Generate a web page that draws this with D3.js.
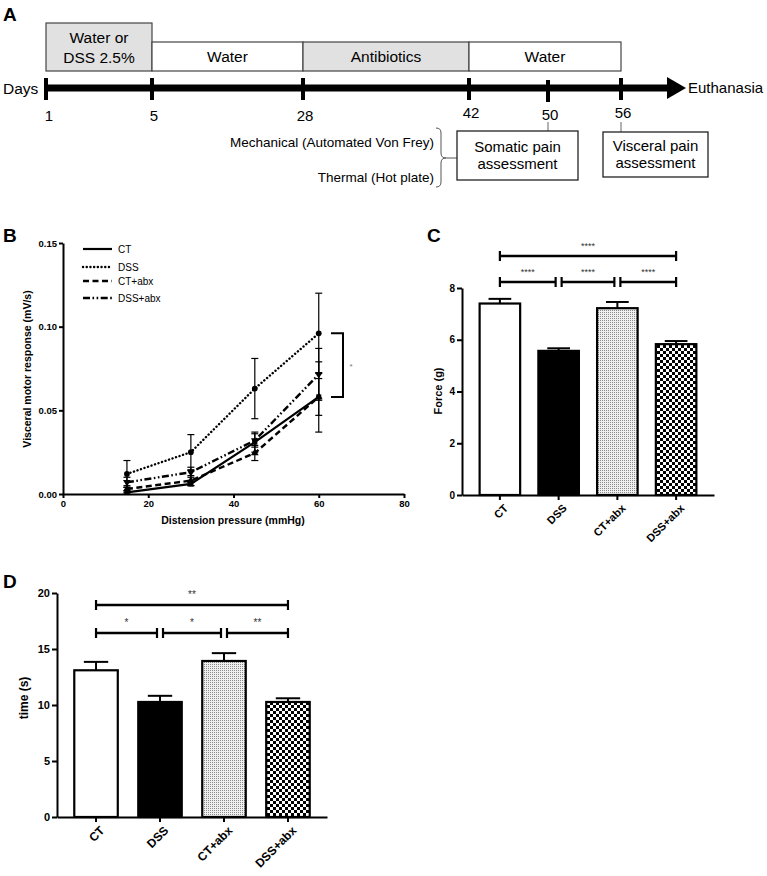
<!DOCTYPE html>
<html><head><meta charset="utf-8">
<script src="https://cdn.jsdelivr.net/npm/d3@7"></script>
<style>body{margin:0;background:#fff}svg{display:block}text{font-family:"Liberation Sans",Arial,sans-serif}</style>
</head><body><svg id="c" width="767" height="876"></svg>
<script>
// ---------- DATA ----------
const days = [1, 5, 28, 42, 50, 56];
const periods = [
  {from: 1, to: 5, lines: ["Water or", "DSS 2.5%"], gray: true, tall: true},
  {from: 5, to: 28, lines: ["Water"], gray: false},
  {from: 28, to: 42, lines: ["Antibiotics"], gray: true},
  {from: 42, to: 56, lines: ["Water"], gray: false}
];
const pressures = [15, 30, 45, 60];
const bGroups = ["CT", "DSS", "CT+abx", "DSS+abx"];
const vmrCT = [0.001, 0.006, 0.031, 0.058];
const vmrCTerr = [0.001, 0.001, 0.006, 0.021];
const vmrDSS = [0.012, 0.025, 0.063, 0.096];
const vmrDSSerr = [0.008, 0.0105, 0.018, 0.024];
const vmrCTabx = [0.003, 0.008, 0.0245, 0.058];
const vmrCTabxErr = [0.002, 0.003, 0.0045, 0.011];
const vmrDSSabx = [0.007, 0.013, 0.032, 0.0715];
const vmrDSSabxErr = [0.003, 0.003, 0.004, 0.0155];
const bXTicks = [0, 20, 40, 60, 80];
const bYTicks = [0, 0.05, 0.10, 0.15];
const groups = ["CT", "DSS", "CT+abx", "DSS+abx"];
const force = [7.4, 5.57, 7.22, 5.83];
const forceErr = [0.18, 0.1, 0.24, 0.12];
const cYTicks = [0, 2, 4, 6, 8];
const cSig = [{a: 0, b: 3, t: "****", row: 0}, {a: 0, b: 1, t: "****", row: 1}, {a: 1, b: 2, t: "****", row: 1}, {a: 2, b: 3, t: "****", row: 1}];
const hotTime = [13.1, 10.27, 13.93, 10.27];
const hotTimeErr = [0.75, 0.55, 0.7, 0.33];
const dYTicks = [0, 5, 10, 15, 20];
const dSig = [{a: 0, b: 3, t: "**", row: 0}, {a: 0, b: 1, t: "*", row: 1}, {a: 1, b: 2, t: "*", row: 1}, {a: 2, b: 3, t: "**", row: 1}];

const svg = d3.select("#c");
const FONT = '"Liberation Sans",Arial,sans-serif';

// patterns
const defs = svg.append("defs");
const pDot = defs.append("pattern").attr("id", "dots").attr("patternUnits", "userSpaceOnUse").attr("width", 2).attr("height", 2);
pDot.append("rect").attr("width", 2).attr("height", 2).attr("fill", "#f0f0f0");
pDot.append("rect").attr("width", 1).attr("height", 1).attr("fill", "#8a8a8a");
const pChk = defs.append("pattern").attr("id", "checker").attr("patternUnits", "userSpaceOnUse").attr("width", 6).attr("height", 6);
pChk.append("rect").attr("width", 6).attr("height", 6).attr("fill", "#fff");
pChk.append("rect").attr("width", 3).attr("height", 3).attr("fill", "#000");
pChk.append("rect").attr("x", 3).attr("y", 3).attr("width", 3).attr("height", 3).attr("fill", "#000");
const fills = ["#fff", "#000", "url(#dots)", "url(#checker)"];

function panelLabel(t, x, y) {
  svg.append("text").attr("x", x).attr("y", y).attr("font-size", 19).attr("font-weight", "bold").text(t);
}

// ---------- PANEL A ----------
panelLabel("A", 3, 21);
const xDay = d3.scaleLinear().domain(days).range([46, 152, 303, 469, 548, 621]);
const gA = svg.append("g");
const lineY = 88;
periods.forEach(p => {
  const x0 = xDay(p.from), x1 = xDay(p.to);
  const y0 = p.tall ? 23 : 42, y1 = 71;
  gA.append("rect").attr("x", x0).attr("y", y0).attr("width", x1 - x0).attr("height", y1 - y0)
    .attr("fill", p.gray ? "#e1e1e1" : "#fff").attr("stroke", "#444").attr("stroke-width", 1.2);
  const cy = (y0 + y1) / 2;
  p.lines.forEach((l, i) => {
    gA.append("text").attr("x", (x0 + x1) / 2).attr("y", cy + (i - (p.lines.length - 1) / 2) * 20)
      .attr("dy", "0.36em").attr("text-anchor", "middle").attr("font-size", 15.5).text(l);
  });
});
gA.append("line").attr("x1", xDay(1)).attr("x2", 668).attr("y1", lineY).attr("y2", lineY).attr("stroke", "#000").attr("stroke-width", 7);
gA.append("path").attr("d", `M667,${lineY - 11}L686,${lineY}L667,${lineY + 11}Z`).attr("fill", "#000");
days.forEach(d => {
  gA.append("rect").attr("x", xDay(d) - 2).attr("y", d === 50 ? 80 : 78).attr("width", 4).attr("height", 22).attr("fill", "#000");
  gA.append("text").attr("x", xDay(d) + (d === 1 ? 3 : 2)).attr("y", d === 50 ? 120 : d === 42 || d === 56 ? 118 : 121)
    .attr("text-anchor", "middle").attr("font-size", 15).text(d);
});
gA.append("text").attr("x", 3).attr("y", lineY).attr("dy", "0.36em").attr("font-size", 15.5).text("Days");
gA.append("text").attr("x", 688).attr("y", lineY).attr("dy", "0.36em").attr("font-size", 15).text("Euthanasia");
gA.append("text").attr("x", 434).attr("y", 142).attr("dy", "0.36em").attr("text-anchor", "end").attr("font-size", 13.5).text("Mechanical (Automated Von Frey)");
gA.append("text").attr("x", 434).attr("y", 177).attr("dy", "0.36em").attr("text-anchor", "end").attr("font-size", 13.5).text("Thermal (Hot plate)");
gA.append("path").attr("d", "M436,128 Q441,128 441,133 L441,153 Q441,158 446,158 Q441,158 441,163 L441,182 Q441,187 436,187")
  .attr("fill", "none").attr("stroke", "#555").attr("stroke-width", 1);
gA.append("line").attr("x1", 446).attr("x2", 457).attr("y1", 158).attr("y2", 158).attr("stroke", "#555");
[{d: 50, x0: 457, x1: 578, y0: 131, y1: 180, l: ["Somatic pain", "assessment"]},
 {d: 56, x0: 603, x1: 708, y0: 132, y1: 177, l: ["Visceral pain", "assessment"]}].forEach(b => {
  gA.append("line").attr("x1", xDay(b.d)).attr("x2", xDay(b.d)).attr("y1", 122).attr("y2", b.y0).attr("stroke", "#666");
  gA.append("rect").attr("x", b.x0).attr("y", b.y0).attr("width", b.x1 - b.x0).attr("height", b.y1 - b.y0)
    .attr("fill", "#fff").attr("stroke", "#222").attr("stroke-width", 1.3);
  b.l.forEach((t, i) => gA.append("text").attr("x", (b.x0 + b.x1) / 2).attr("y", (b.y0 + b.y1) / 2 + (i - 0.5) * 17)
    .attr("dy", "0.36em").attr("text-anchor", "middle").attr("font-size", 15).text(t));
});

function styleAxis(g, fs) {
  g.selectAll(".domain").attr("stroke", "#000").attr("stroke-width", 2);
  g.selectAll(".tick line").attr("stroke", "#000").attr("stroke-width", 2);
  g.selectAll("text").attr("font-family", FONT).attr("font-weight", "bold").attr("font-size", fs).attr("fill", "#000");
}

// ---------- PANEL B ----------
panelLabel("B", 3, 242);
const xB = d3.scaleLinear().domain([0, 80]).range([63, 404]);
const yB = d3.scaleLinear().domain([0, 0.15]).range([494, 243]);
const gB = svg.append("g");
gB.append("g").attr("transform", "translate(0,494)")
  .call(d3.axisBottom(xB).tickValues(bXTicks).tickSize(4).tickSizeOuter(0).tickPadding(2))
  .call(g => styleAxis(g, 9.5));
gB.append("g").attr("transform", "translate(63,0)")
  .call(d3.axisLeft(yB).tickValues(bYTicks).tickFormat(d3.format(".2f")).tickSize(4).tickSizeOuter(0).tickPadding(2))
  .call(g => styleAxis(g, 9.5));
gB.append("text").attr("x", 233).attr("y", 524).attr("text-anchor", "middle").attr("font-size", 10.5).attr("font-weight", "bold").text("Distension pressure (mmHg)");
gB.append("text").attr("transform", "translate(31,369) rotate(-90)").attr("text-anchor", "middle").attr("font-size", 10.5).attr("font-weight", "bold").text("Visceral motor response (mV/s)");
const seriesB = [
  {name: bGroups[0], v: vmrCT, e: vmrCTerr, dash: null, w: 2.2, cap: "butt", sym: d3.symbolSquare},
  {name: bGroups[1], v: vmrDSS, e: vmrDSSerr, dash: "0.1,3.6", w: 2.4, cap: "round", sym: d3.symbolCircle},
  {name: bGroups[2], v: vmrCTabx, e: vmrCTabxErr, dash: "6,3.5", w: 2.4, cap: "butt", sym: d3.symbolTriangle},
  {name: bGroups[3], v: vmrDSSabx, e: vmrDSSabxErr, dash: "7,2.5,1.6,2.5,1.6,2.5", w: 2.4, cap: "butt", sym: d3.symbolTriangle, flip: true}
];
const lineGen = d3.line().x((d, i) => xB(pressures[i])).y(d => yB(d));
seriesB.forEach(s => {
  s.v.forEach((v, i) => {
    const x = xB(pressures[i]);
    gB.append("line").attr("x1", x).attr("x2", x).attr("y1", yB(v - s.e[i])).attr("y2", yB(v + s.e[i])).attr("stroke", "#000").attr("stroke-width", 1.2);
    [v - s.e[i], v + s.e[i]].forEach(t => gB.append("line").attr("x1", x - 3.5).attr("x2", x + 3.5).attr("y1", yB(t)).attr("y2", yB(t)).attr("stroke", "#000").attr("stroke-width", 1.2));
  });
  gB.append("path").datum(s.v).attr("d", lineGen).attr("fill", "none").attr("stroke", "#000")
    .attr("stroke-width", s.w).attr("stroke-dasharray", s.dash).attr("stroke-linecap", s.cap);
  s.v.forEach((v, i) => {
    gB.append("path").attr("d", d3.symbol().type(s.sym).size(26)())
      .attr("transform", `translate(${xB(pressures[i])},${yB(v)})${s.flip ? " rotate(180)" : ""}`).attr("fill", "#000");
  });
});
seriesB.forEach((s, i) => {
  const y = [249, 267, 281, 298][i];
  gB.append("line").attr("x1", 83).attr("x2", 112).attr("y1", y).attr("y2", y).attr("stroke", "#000")
    .attr("stroke-width", s.w).attr("stroke-dasharray", s.dash).attr("stroke-linecap", s.cap);
  gB.append("text").attr("x", 118).attr("y", y).attr("dy", "0.36em").attr("font-size", 10).text(s.name);
});
{
  const x0 = 331, x1 = 343, ya = yB(vmrDSS[3]), yb = yB(vmrCT[3]);
  gB.append("path").attr("d", `M${x0},${ya}H${x1}V${yb}H${x0}`).attr("fill", "none").attr("stroke", "#000").attr("stroke-width", 2);
  gB.append("text").attr("x", 351).attr("y", (ya + yb) / 2 + 4).attr("text-anchor", "middle").attr("font-size", 8).attr("fill", "#777").text("*");
}

// ---------- bar chart helper ----------
function barPanel(o) {
  const g = svg.append("g");
  const x = d3.scaleBand().domain(groups).range(o.xr).paddingInner(o.pin).paddingOuter(o.pout);
  const y = d3.scaleLinear().domain(o.dom).range([o.y0, o.y1]);
  g.append("g").attr("transform", `translate(0,${o.y0})`)
    .call(d3.axisBottom(x).tickSize(5).tickSizeOuter(0).tickFormat(""))
    .call(gg => styleAxis(gg, o.fs));
  g.append("g").attr("transform", `translate(${o.xr[0]},0)`)
    .call(d3.axisLeft(y).tickValues(o.ticks).tickSize(5).tickSizeOuter(0).tickPadding(2))
    .call(gg => styleAxis(gg, o.fs));
  groups.forEach(gname => {
    g.append("text").attr("transform", `translate(${x(gname) + x.bandwidth() / 2 + 5},${o.y0 + 10}) rotate(-45)`)
      .attr("text-anchor", "end").attr("dy", "0.5em").attr("font-size", o.fs + 1).attr("font-weight", "bold").text(gname);
  });
  g.append("text").attr("transform", `translate(${o.titleX},${o.titleY}) rotate(-90)`).attr("text-anchor", "middle")
    .attr("font-size", o.fs + 1).attr("font-weight", "bold").text(o.title);
  groups.forEach((gname, i) => {
    const cx = x(gname) + x.bandwidth() / 2;
    const top = y(o.vals[i] + o.errs[i]);
    g.append("line").attr("x1", cx).attr("x2", cx).attr("y1", y(o.vals[i])).attr("y2", top).attr("stroke", "#000").attr("stroke-width", 2);
    g.append("line").attr("x1", cx - x.bandwidth() * 0.28).attr("x2", cx + x.bandwidth() * 0.28).attr("y1", top).attr("y2", top).attr("stroke", "#000").attr("stroke-width", 2);
    g.append("rect").attr("x", x(gname)).attr("y", y(o.vals[i])).attr("width", x.bandwidth()).attr("height", o.y0 - y(o.vals[i]))
      .attr("fill", fills[i]).attr("stroke", "#000").attr("stroke-width", 2.2);
  });
  o.sig.forEach(s => {
    const yy = o.rowY[s.row];
    const xa = x(groups[s.a]) + x.bandwidth() / 2 + (s.row === 1 && s.a > 0 ? 3 : 0);
    const xb = x(groups[s.b]) + x.bandwidth() / 2 - (s.row === 1 && s.b < 3 ? 3 : 0);
    g.append("line").attr("x1", xa).attr("x2", xb).attr("y1", yy).attr("y2", yy).attr("stroke", "#000").attr("stroke-width", 2.5);
    [xa, xb].forEach(xx => g.append("line").attr("x1", xx).attr("x2", xx).attr("y1", yy - 5).attr("y2", yy + 5).attr("stroke", "#000").attr("stroke-width", 2.2));
    g.append("text").attr("x", (xa + xb) / 2).attr("y", yy - 7).attr("text-anchor", "middle").attr("font-size", o.starFs).attr("fill", "#333").text(s.t);
  });
}

// ---------- PANEL C ----------
panelLabel("C", 427, 242);
barPanel({xr: [462, 714], y0: 495, y1: 288, dom: [0, 8], ticks: cYTicks, pin: 0.31, pout: 0.3, vals: force, errs: forceErr,
  fs: 10, title: "Force (g)", titleX: 442, titleY: 391, sig: cSig, rowY: [256, 282], starFs: 9});

// ---------- PANEL D ----------
panelLabel("D", 3, 588);
barPanel({xr: [57, 327], y0: 817, y1: 593, dom: [0, 20], ticks: dYTicks, pin: 0.32, pout: 0.27, vals: hotTime, errs: hotTimeErr,
  fs: 11, title: "time (s)", titleX: 28, titleY: 698, sig: dSig, rowY: [605, 633], starFs: 10});
</script></body></html>
